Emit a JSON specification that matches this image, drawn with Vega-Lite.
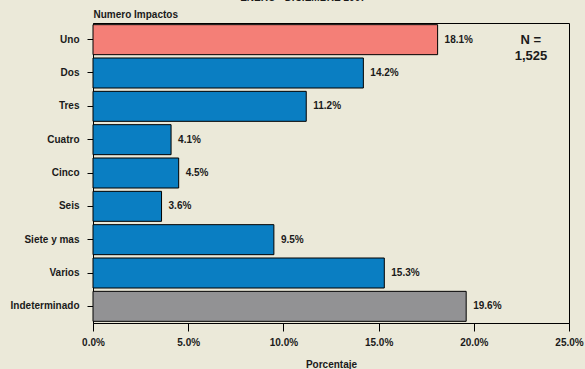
{
  "$schema": "https://vega.github.io/schema/vega-lite/v6.json",
  "autosize": "none",
  "width": 476,
  "height": 300,
  "padding": {"left": 93, "top": 23, "right": 16, "bottom": 46},
  "background": "#EBE9D9",
  "title": {"text": "ENERO - DICIEMBRE 2007", "fontSize": 10, "font": "Liberation Sans", "fontWeight": "bold", "color": "#1a1a1a", "anchor": "middle", "dx": -28, "offset": 6},
  "config": {
    "view": {"stroke": "#000000", "strokeWidth": 1},
    "font": "Liberation Sans",
    "axis": {"labelFont": "Liberation Sans", "labelFontWeight": "bold", "labelFontSize": 10, "labelColor": "#1a1a1a", "titleFont": "Liberation Sans", "titleFontWeight": "bold", "titleFontSize": 10, "titleColor": "#1a1a1a", "domainColor": "#000000", "tickColor": "#000000", "grid": false}
  },
  "data": {"values": [
    {"cat": "Uno", "pct": 18.1, "label": "18.1%", "grp": "uno"},
    {"cat": "Dos", "pct": 14.2, "label": "14.2%", "grp": "otros"},
    {"cat": "Tres", "pct": 11.2, "label": "11.2%", "grp": "otros"},
    {"cat": "Cuatro", "pct": 4.1, "label": "4.1%", "grp": "otros"},
    {"cat": "Cinco", "pct": 4.5, "label": "4.5%", "grp": "otros"},
    {"cat": "Seis", "pct": 3.6, "label": "3.6%", "grp": "otros"},
    {"cat": "Siete y mas", "pct": 9.5, "label": "9.5%", "grp": "otros"},
    {"cat": "Varios", "pct": 15.3, "label": "15.3%", "grp": "otros"},
    {"cat": "Indeterminado", "pct": 19.6, "label": "19.6%", "grp": "indet"}
  ]},
  "encoding": {
    "y": {"field": "cat", "type": "nominal", "sort": null,
      "scale": {"paddingInner": 0.1, "paddingOuter": 0.05},
      "axis": {"title": "Numero Impactos", "titleAngle": 0, "titleAlign": "left", "titleBaseline": "middle", "titleX": 0, "titleY": -9, "tickSize": 6, "labelPadding": 8, "domainWidth": 1}}
  },
  "layer": [
    {
      "mark": {"type": "bar", "stroke": "#000000", "strokeWidth": 1},
      "encoding": {
        "x": {"field": "pct", "type": "quantitative",
          "scale": {"domain": [0, 25], "nice": false},
          "axis": {"title": "Porcentaje", "values": [0, 5, 10, 15, 20, 25], "labelExpr": "format(datum.value, '.1f') + '%'", "labelFlush": false, "labelOverlap": false, "tickSize": 8, "labelPadding": 6, "titlePadding": 12}},
        "color": {"field": "grp", "type": "nominal", "legend": null,
          "scale": {"domain": ["uno", "otros", "indet"], "range": ["#F47F77", "#0A7EC2", "#929294"]}}
      }
    },
    {
      "mark": {"type": "text", "align": "left", "dx": 7, "fontSize": 10, "fontWeight": "bold", "color": "#1a1a1a"},
      "encoding": {
        "x": {"field": "pct", "type": "quantitative"},
        "text": {"field": "label", "type": "nominal"}
      }
    },
    {
      "data": {"values": [{"pos": 23, "cat": "Uno", "txt": ["N =", "1,525"]}]},
      "mark": {"type": "text", "align": "center", "baseline": "top", "dy": -6, "fontSize": 13, "fontWeight": "bold", "color": "#1a1a1a", "lineHeight": 16},
      "encoding": {
        "x": {"field": "pos", "type": "quantitative"},
        "text": {"field": "txt"}
      }
    }
  ]
}
